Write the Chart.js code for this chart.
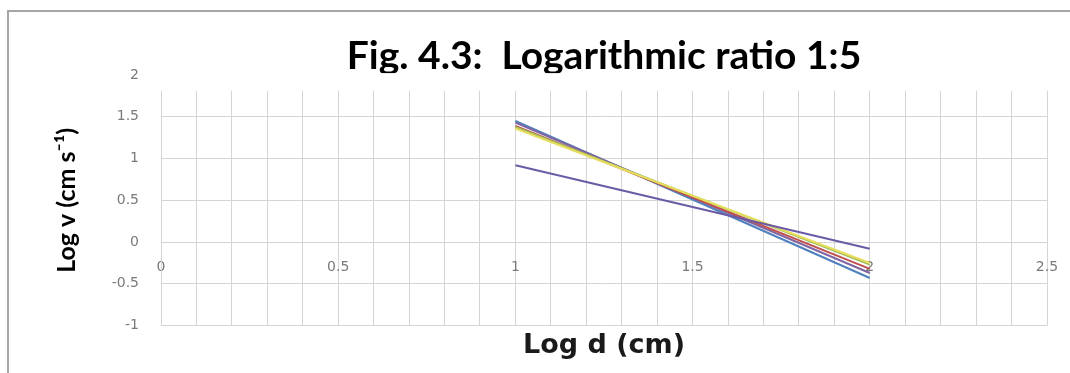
<!DOCTYPE html>
<html>
<head>
<meta charset="utf-8">
<title>Fig. 4.3: Logarithmic ratio 1:5</title>
<script src="https://cdn.jsdelivr.net/npm/chart.js@4"></script>
<style>
  html, body { margin: 0; padding: 0; background: #fff; }
  #wrap { position: relative; width: 1070px; height: 373px; }
  #frame { position: absolute; left: 7px; top: 10px; right: 0; bottom: 0;
           border-top: 2px solid #a6a6a6; border-left: 2px solid #a6a6a6; }
  canvas { position: absolute; left: 0; top: 0; }
</style>
</head>
<body>
<div id="wrap">
  <div id="frame"></div>
  <canvas id="logChart" width="1070" height="373"></canvas>
</div>
<script>
// Log d (cm) at the two ends of each fitted line
const logD = [1, 2];

// Log v (cm s-1) for each series
const seriesBlue   = [1.45, -0.43];
const seriesPurple = [1.43, -0.37];
const seriesRed    = [1.39, -0.32];
const seriesGreen  = [1.38, -0.27];
const seriesYellow = [1.36, -0.25];
const seriesFlat   = [0.92, -0.08];

// axis ranges / tick steps
const xRange = [0, 2.5];
const yRange = [-1, 2];
const xLabelStep = 0.5;

const gridColor = '#d4d4d4';
const tickColor = '#7a7a7a';

function toPoints(values) {
    return logD.map((d, i) => ({ x: d, y: values[i] }));
}

function makeLine(values, color) {
    return {
        data: toPoints(values),
        borderColor: color,
        backgroundColor: color,
        borderWidth: 2,
        showLine: true,
        pointRadius: 0,
        fill: false
    };
}

function fmt(v) {
    return String(Math.round(v * 10) / 10);
}

// white strip under the title, the way the original title box hides the grid top
const titleCover = {
    id: 'titleCover',
    beforeDatasetsDraw(chart) {
        const { ctx, chartArea, scales } = chart;
        const yBottom = scales.y.getPixelForValue(1.8);
        ctx.save();
        ctx.fillStyle = '#ffffff';
        ctx.fillRect(chartArea.left - 2, chartArea.top - 2, chartArea.width + 4, yBottom - chartArea.top + 1);
        ctx.restore();
    }
};

const canvas = document.getElementById('logChart');
new Chart(canvas, {
    type: 'scatter',
    data: {
        datasets: [
            makeLine(seriesFlat, '#6b5aa6'),
            makeLine(seriesYellow, '#e6de5c'),
            makeLine(seriesGreen, '#9bbb59'),
            makeLine(seriesRed, '#c0504d'),
            makeLine(seriesPurple, '#8064a2'),
            makeLine(seriesBlue, '#4f81bd')
        ]
    },
    options: {
        responsive: false,
        animation: false,
        devicePixelRatio: 1,
        layout: { padding: { left: 0, right: 23, top: 0, bottom: 0 } },
        plugins: {
            legend: { display: false },
            tooltip: { enabled: false },
            title: {
                display: true,
                fullSize: false,
                text: 'Fig. 4.3:  Logarithmic ratio 1:5',
                color: '#000000',
                font: { family: 'Lato', size: 39, weight: 'bold', lineHeight: 0.9 },
                padding: { top: 39, bottom: 1 }
            }
        },
        scales: {
            x: {
                type: 'linear',
                min: xRange[0],
                max: xRange[1],
                position: { y: 0 },
                grid: { color: gridColor, drawTicks: false },
                border: { color: gridColor },
                ticks: {
                    stepSize: 0.1,
                    autoSkip: false,
                    maxRotation: 0,
                    padding: 17,
                    color: tickColor,
                    font: { family: 'DejaVu Sans', size: 14 },
                    callback: (v) => {
                        const k = v / xLabelStep;
                        return Math.abs(k - Math.round(k)) < 1e-6 ? fmt(v) : '';
                    }
                },
                afterFit: (scale) => { scale.paddingLeft = 0; scale.paddingRight = 0; }
            },
            xTitle: {
                type: 'linear',
                axis: 'x',
                position: 'bottom',
                min: xRange[0],
                max: xRange[1],
                ticks: { display: false },
                grid: { display: false, drawTicks: false },
                border: { display: false },
                title: {
                    display: true,
                    text: 'Log d (cm)',
                    color: '#1a1a1a',
                    font: { family: 'DejaVu Sans', size: 27, weight: 'bold', lineHeight: 1.2 },
                    padding: { top: 4, bottom: 11 }
                }
            },
            y: {
                type: 'linear',
                min: yRange[0],
                max: yRange[1],
                grid: { color: gridColor, drawTicks: false },
                border: { color: gridColor },
                ticks: {
                    stepSize: 0.5,
                    padding: 22,
                    color: tickColor,
                    font: { family: 'DejaVu Sans', size: 14 },
                    callback: (v) => fmt(v)
                },
                title: {
                    display: true,
                    text: 'Log v (cm s⁻¹)',
                    color: '#000000',
                    font: { family: 'Lato', size: 25, weight: 'bold', lineHeight: 1.2 },
                    padding: { top: 52, bottom: 0 }
                },
                afterFit: (scale) => { scale.width = 161; }
            }
        }
    },
    plugins: [titleCover]
});
</script>
</body>
</html>
